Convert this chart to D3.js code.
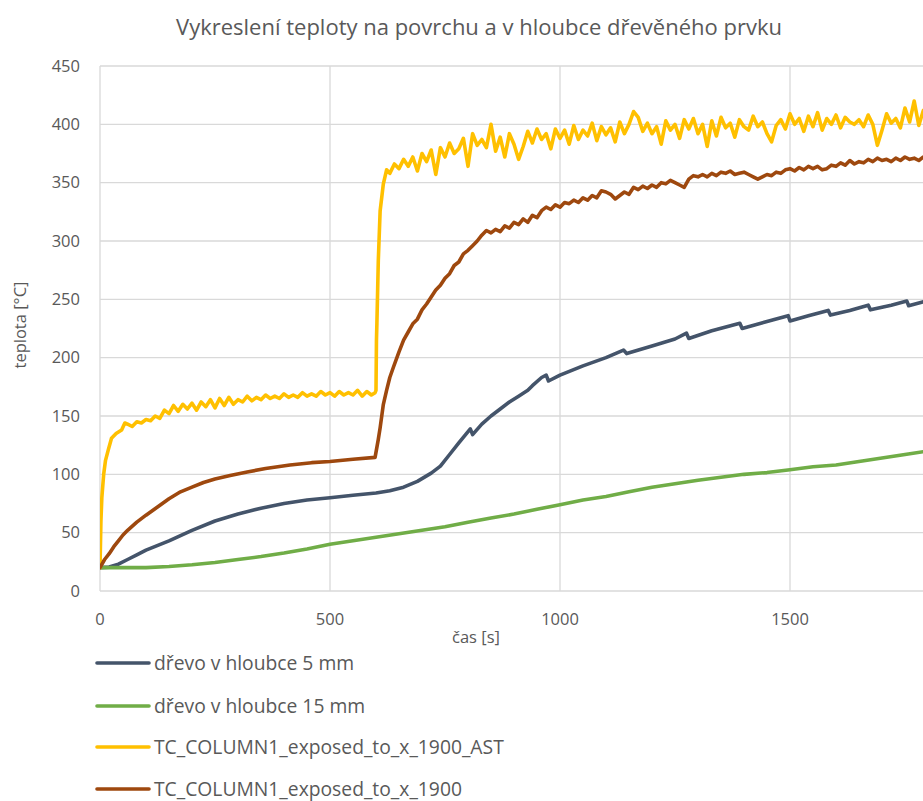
<!DOCTYPE html>
<html>
<head>
<meta charset="utf-8">
<script src="https://cdn.jsdelivr.net/npm/d3@7"></script>
<style>
  body { margin: 0; background: #fff; }
  text { font-family: "Open Sans", sans-serif; fill: #595959; }
</style>
</head>
<body>
<svg id="chart"></svg>
<script>
var width = 923;
var height = 801;

// series names + colours
var seriesNames = ["dřevo v hloubce 5 mm", "dřevo v hloubce 15 mm",
                   "TC_COLUMN1_exposed_to_x_1900_AST", "TC_COLUMN1_exposed_to_x_1900"];
var seriesColors = ["#44546A", "#70AD47", "#FFC000", "#9E480E"];

var yTicks = [0, 50, 100, 150, 200, 250, 300, 350, 400, 450];
var xTicks = [0, 500, 1000, 1500];

// dřevo 5 mm  [time, temp]
var depth5 = [[0,20],[20,20.5],[40,23],[60,27],[80,31],[100,35],[150,43],[200,52],[250,60],[300,66],
  [350,71],[400,75],[450,78],[500,80],[550,82],[600,84],[630,86],[660,89],[690,94],[720,101],
  [740,107],[760,117],[780,127],[805,139],[810,134],[830,143],[850,150],[870,156],[890,162],[910,167],
  [930,172],[940,176],[960,183],[970,185],[975,180],[1000,185],[1050,193],[1100,200],[1138,206.5],[1145,203.5],
  [1200,210],[1250,216],[1275,221],[1280,216.5],[1330,223],[1391,229.5],[1396,225],[1450,231],[1496,236],[1500,231.5],
  [1540,236],[1583,240.5],[1588,236.5],[1630,240.5],[1670,245],[1675,241],[1720,245],[1754,248.5],[1758,244.5],[1800,249]];

// dřevo 15 mm
var depth15 = [[0,20],[50,20],[100,20],[150,21],[200,22.5],[250,24.5],[300,27],[350,29.5],[400,32.5],[450,36],
  [500,40],[550,43],[600,46],[650,49],[700,52],[750,55],[800,59],[850,62.5],[900,66],[950,70],
  [1000,74],[1050,78],[1100,81],[1150,85],[1200,89],[1250,92],[1300,95],[1350,97.5],[1400,100],[1450,101.5],
  [1500,104],[1550,106.5],[1600,108],[1650,111],[1700,114],[1750,117],[1800,120]];

// TC ..._AST (start + jump), then 10 s samples
var astStart = [[0,20],[2,60],[4,80],[8,100],[12,112],[18,121],[25,131],[35,135],[47,138],[54,144]];
var astPre = [143,141,145,144,147,146,150,148,155,152,159,154,160,156,161,155,162,158,164,157,
  165,159,166,160,164,162,167,163,166,164,168,165,167,165,169,166,168,166,170,167,
  169,167,171,168,170,167,171,168,170,168,172,167,171,168]; // t = 60..590
var astJump = [[598,170],[600,172],[601,215],[602,230],[605,283],[609,326],[616,349],[623,361]];
var astPost = [358,366,362,370,364,372,360,375,368,378,357,380,372,384,375,379,388,364,392,382,
  387,380,400,377,389,372,392,383,370,381,394,384,396,387,392,379,396,388,395,383,
  399,387,395,390,401,386,398,391,397,385,402,392,400,411,406,394,401,392,398,383,
  403,395,400,388,404,396,405,392,400,381,403,390,406,397,401,389,404,398,395,407,
  398,402,392,385,399,404,396,409,400,405,394,407,398,410,395,405,400,408,397,406,
  402,400,404,398,408,400,382,395,409,401,405,397,414,402,420,399,412,405]; // t = 630..1800

// TC ... 1900 (smooth start + jump), then 10 s samples
var tcStart = [[0,20],[10,27],[20,32],[30,38],[40,43],[50,48],[60,52],[80,59],[100,65],[125,72],
  [150,79],[175,85],[200,89],[225,93],[250,96],[283,99],[320,102],[360,105],[413,108],[460,110],
  [500,111],[550,113],[598,114.5],[605,130],[609,140],[616,160],[623,172],[630,183],[638,192],[650,205]];
var tcPost = [215,222,229,233,241,246,252,258,262,268,272,279,282,289,292,296,300,305,309,307,
  310,308,313,311,316,314,319,316,322,320,326,329,327,331,329,333,332,335,333,337,
  335,339,337,343,342,340,336,339,342,340,346,344,347,345,348,346,350,349,352,350,
  348,346,353,356,355,357,355,358,356,359,358,360,357,358,359,357,355,353,355,357,
  356,359,358,361,362,360,363,361,364,362,364,361,362,365,364,367,365,369,366,368,
  367,370,368,371,369,370,368,371,369,372,370,371,369,372,370]; // t = 660..1800

function sampled(values, t0) {
  return values.map(function(v, i){ return [t0 + i*10, v]; });
}

var ast = astStart.concat(sampled(astPre, 60), astJump, sampled(astPost, 630));
var tc = tcStart.concat(sampled(tcPost, 660));
var allSeries = [depth5, depth15, ast, tc];

var svg = d3.select('#chart')
    .attr('width', width)
    .attr('height', height);

var x = d3.scaleLinear().domain([0, 1800]).range([100, 928]);
var y = d3.scaleLinear().domain([0, 450]).range([591, 66]);

// grid
svg.append('g').selectAll('line.h')
    .data(yTicks.slice(1))
    .enter().append('line')
    .attr('x1', 100).attr('x2', width)
    .attr('y1', function(d){ return y(d); }).attr('y2', function(d){ return y(d); })
    .style('stroke', '#d9d9d9').style('stroke-width', 1.3);

svg.append('g').selectAll('line.v')
    .data(xTicks.slice(1))
    .enter().append('line')
    .attr('x1', function(d){ return x(d); }).attr('x2', function(d){ return x(d); })
    .attr('y1', y(450)).attr('y2', y(0))
    .style('stroke', '#d9d9d9').style('stroke-width', 1.3);

// axis lines
svg.append('line').attr('x1', 100).attr('x2', 100).attr('y1', y(450)).attr('y2', y(0))
    .style('stroke', '#d9d9d9').style('stroke-width', 1.3);
svg.append('line').attr('x1', 100).attr('x2', width).attr('y1', y(0)).attr('y2', y(0))
    .style('stroke', '#d9d9d9').style('stroke-width', 1.3);

// tick labels
svg.append('g').selectAll('text')
    .data(yTicks).enter().append('text')
    .attr('x', 80).attr('y', function(d){ return y(d); })
    .attr('dy', '0.35em')
    .attr('text-anchor', 'end')
    .style('font-size', '16.5px')
    .text(function(d){ return d; });

svg.append('g').selectAll('text')
    .data(xTicks).enter().append('text')
    .attr('x', function(d){ return x(d); }).attr('y', 625)
    .attr('text-anchor', 'middle')
    .style('font-size', '16.5px')
    .text(function(d){ return d; });

// titles
svg.append('text').attr('x', 479).attr('y', 35).attr('text-anchor', 'middle')
    .style('font-size', '22px')
    .text('Vykreslení teploty na povrchu a v hloubce dřevěného prvku');
svg.append('text').attr('x', 476).attr('y', 643).attr('text-anchor', 'middle')
    .style('font-size', '16.5px').text('čas [s]');
svg.append('text').attr('transform', 'translate(26,325) rotate(-90)').attr('text-anchor', 'middle')
    .style('font-size', '16.5px').text('teplota [°C]');

// lines
var line = d3.line()
    .x(function(d){ return x(d[0]); })
    .y(function(d){ return y(d[1]); });

svg.append('clipPath').attr('id', 'clip')
    .append('rect').attr('x', 100).attr('y', 0).attr('width', width - 100).attr('height', 600);

var drawOrder = [0, 1, 2, 3];
svg.append('g').attr('clip-path', 'url(#clip)')
    .selectAll('path')
    .data(drawOrder).enter().append('path')
    .attr('d', function(i){ return line(allSeries[i]); })
    .style('fill', 'none')
    .style('stroke', function(i){ return seriesColors[i]; })
    .style('stroke-width', 3.6)
    .style('stroke-linejoin', 'round')
    .style('stroke-linecap', 'round');

// legend
var legendY = [663, 706, 747, 789];
var legend = svg.append('g').selectAll('g')
    .data(seriesNames).enter().append('g')
    .attr('transform', function(d, i){ return 'translate(0,' + legendY[i] + ')'; });
legend.append('line').attr('x1', 97).attr('x2', 149)
    .style('stroke', function(d, i){ return seriesColors[i]; })
    .style('stroke-width', 3.6).style('stroke-linecap', 'round');
legend.append('text').attr('x', 154).attr('dy', '0.35em')
    .style('font-size', '19.3px')
    .text(function(d){ return d; });
</script>
</body>
</html>
